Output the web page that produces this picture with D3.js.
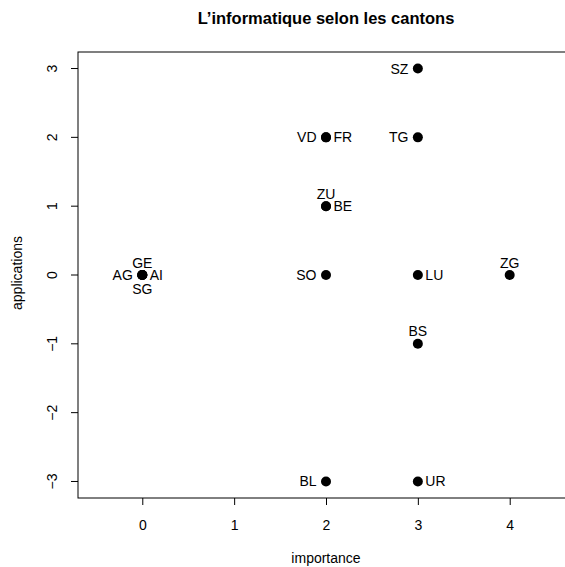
<!DOCTYPE html>
<html>
<head>
<meta charset="utf-8">
<script src="https://cdn.jsdelivr.net/npm/d3@7"></script>
<style>
  body { margin: 0; background: #fff; }
  svg { display: block; font-family: "Liberation Sans", Arial, Helvetica, sans-serif; }
</style>
</head>
<body>
<div id="chart"></div>
<script>
// Cantons, their scores and where each label sits relative to its point
const cantons = ['SZ', 'VD', 'FR', 'TG', 'ZU', 'BE', 'GE', 'AG', 'AI', 'SG', 'SO', 'LU', 'ZG', 'BS', 'BL', 'UR'];
const importance = [3, 2, 2, 3, 2, 2, 0, 0, 0, 0, 2, 3, 4, 3, 2, 3];
const applications = [3, 2, 2, 2, 1, 1, 0, 0, 0, 0, 0, 0, 0, -1, -3, -3];
const labelPos = ['left', 'left', 'right', 'left', 'top', 'right', 'top', 'left', 'right', 'bottom', 'left', 'right', 'top', 'top', 'left', 'right'];

const xTicks = [0, 1, 2, 3, 4];
const yTicks = [-3, -2, -1, 0, 1, 2, 3];

const data = cantons.map((c, i) => ({
    canton: c,
    importance: importance[i],
    applications: applications[i],
    pos: labelPos[i]
}));

const width = 565, height = 567;
const margin = { top: 52, right: -9, bottom: 69, left: 78 };
const fs = '14px';

const svg = d3.select('#chart').append('svg')
    .attr('width', width)
    .attr('height', height);

const x = d3.scaleLinear()
    .domain([-0.7, 4.7])
    .range([margin.left, width - margin.right]);

const y = d3.scaleLinear()
    .domain([-3.24, 3.24])
    .range([height - margin.bottom, margin.top]);

// plot box
svg.append('rect')
    .attr('x', margin.left)
    .attr('y', margin.top)
    .attr('width', width - margin.right - margin.left)
    .attr('height', height - margin.bottom - margin.top)
    .attr('fill', 'none')
    .attr('stroke', '#000')
    .attr('stroke-width', 1);

const xAxis = svg.append('g')
    .attr('transform', `translate(0,${height - margin.bottom})`)
    .call(d3.axisBottom(x).tickValues(xTicks).tickSize(7).tickFormat(d3.format('d')));
xAxis.select('.domain').remove();
xAxis.selectAll('text')
    .style('font-size', fs)
    .attr('fill', '#000')
    .attr('dy', null)
    .attr('y', 31.5);

const yAxis = svg.append('g')
    .attr('transform', `translate(${margin.left},0)`)
    .call(d3.axisLeft(y).tickValues(yTicks).tickSize(7).tickFormat(d => d < 0 ? '\u2212' + Math.abs(d) : d));
yAxis.select('.domain').remove();
yAxis.selectAll('.tick').attr('transform', 'translate(0,0)');
yAxis.selectAll('.tick line').attr('y1', d => y(d)).attr('y2', d => y(d));
yAxis.selectAll('text')
    .style('font-size', fs)
    .attr('fill', '#000')
    .attr('x', null)
    .attr('dy', null)
    .attr('y', 0)
    .attr('transform', d => `translate(-21.5,${y(d)}) rotate(-90)`)
    .attr('text-anchor', 'middle');

// points
svg.append('g')
    .selectAll('circle')
    .data(data)
    .join('circle')
    .attr('cx', d => x(d.importance))
    .attr('cy', d => y(d.applications))
    .attr('r', 5)
    .attr('fill', '#000');

// point labels
svg.append('g')
    .selectAll('text')
    .data(data)
    .join('text')
    .attr('x', d => x(d.importance) + (d.pos === 'left' ? -9.5 : d.pos === 'right' ? 7.5 : 0))
    .attr('y', d => y(d.applications) + (d.pos === 'top' ? -7.5 : d.pos === 'bottom' ? 19 : 5))
    .attr('text-anchor', d => d.pos === 'left' ? 'end' : d.pos === 'right' ? 'start' : 'middle')
    .style('font-size', fs)
    .text(d => d.canton);

svg.append('text')
    .attr('x', x(2))
    .attr('y', 24)
    .attr('text-anchor', 'middle')
    .style('font-size', '16.5px')
    .style('font-weight', 'bold')
    .text('L\u2019informatique selon les cantons');

svg.append('text')
    .attr('x', x(2))
    .attr('y', 562.5)
    .attr('text-anchor', 'middle')
    .style('font-size', fs)
    .text('importance');

svg.append('text')
    .attr('transform', `translate(22,273) rotate(-90)`)
    .attr('text-anchor', 'middle')
    .style('font-size', fs)
    .text('applications');
</script>
</body>
</html>
